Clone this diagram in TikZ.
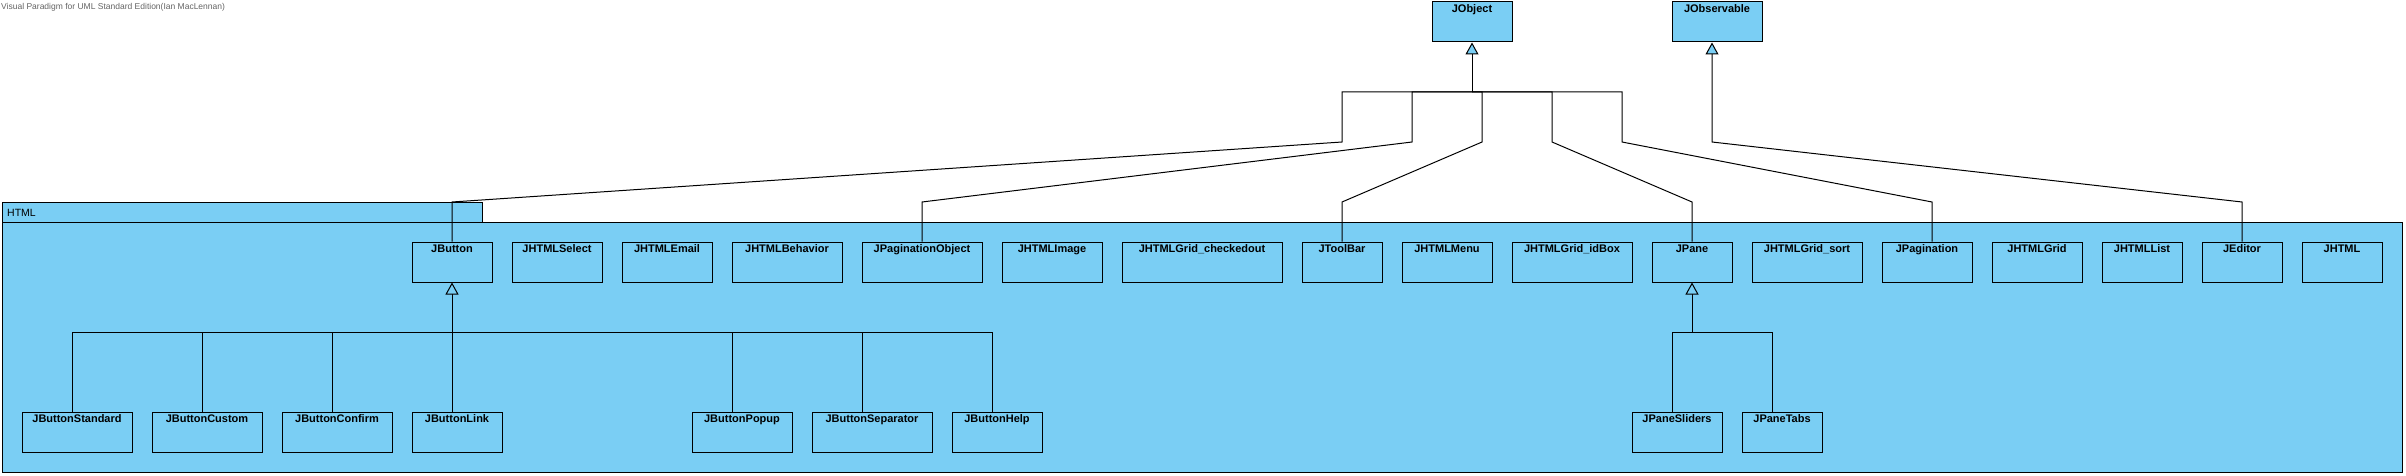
\documentclass[tikz,border=0pt]{standalone}
\usepackage{fontspec}
\setmainfont{Liberation Sans}
\usetikzlibrary{arrows.meta}
\definecolor{umlblue}{RGB}{122,206,244}
\definecolor{wmgray}{RGB}{100,100,100}
\newcommand\umlcls[5]{\node[cls, minimum width=#4pt, label={[clsname]north:#5}] (#1) at (#2,#3) {};}
\begin{document}
\begin{tikzpicture}[x=1pt,y=-1pt,
  cls/.style={draw, fill=umlblue, line width=1pt, minimum height=40pt, inner sep=0pt},
  clsname/.style={anchor=north, inner sep=3pt, font=\fontsize{11}{13}\selectfont\bfseries},
  pkg/.style={draw, fill=umlblue, line width=1pt},
  conn/.style={draw, line width=1pt},
  gen/.style={draw, line width=1pt, -{Triangle[length=12pt,width=13pt,fill=umlblue]}}
]
\useasboundingbox (0,0) rectangle (2406,476);
\node[anchor=north west, inner sep=0pt, font=\fontsize{8.5}{10}\selectfont, text=wmgray] (wm) at (1,3) {Visual Paradigm for UML Standard Edition(Ian MacLennan)};
% package
\draw[pkg] (2,202) rectangle (482,222);
\draw[pkg] (2,222) rectangle (2402,472);
\node[anchor=west, inner sep=0pt, font=\fontsize{10.5}{12}\selectfont] (pkglabel) at (7,213) {HTML};
% top classes
\umlcls{JObject}{1472}{22}{80}{JObject}
\umlcls{JObservable}{1717}{22}{90}{JObservable}
% first row
\umlcls{JButton}{452}{262}{80}{JButton}
\umlcls{JHTMLSelect}{557}{262}{90}{JHTMLSelect}
\umlcls{JHTMLEmail}{667}{262}{90}{JHTMLEmail}
\umlcls{JHTMLBehavior}{787}{262}{110}{JHTMLBehavior}
\umlcls{JPaginationObject}{922}{262}{120}{JPaginationObject}
\umlcls{JHTMLImage}{1052}{262}{100}{JHTMLImage}
\umlcls{gridcheckedout}{1202}{262}{160}{JHTMLGrid\_checkedout}
\umlcls{JToolBar}{1342}{262}{80}{JToolBar}
\umlcls{JHTMLMenu}{1447}{262}{90}{JHTMLMenu}
\umlcls{grididbox}{1572}{262}{120}{JHTMLGrid\_idBox}
\umlcls{JPane}{1692}{262}{80}{JPane}
\umlcls{gridsort}{1807}{262}{110}{JHTMLGrid\_sort}
\umlcls{JPagination}{1927}{262}{90}{JPagination}
\umlcls{JHTMLGrid}{2037}{262}{90}{JHTMLGrid}
\umlcls{JHTMLList}{2142}{262}{80}{JHTMLList}
\umlcls{JEditor}{2242}{262}{80}{JEditor}
\umlcls{JHTML}{2342}{262}{80}{JHTML}
% second row
\umlcls{JButtonStandard}{77}{432}{110}{JButtonStandard}
\umlcls{JButtonCustom}{207}{432}{110}{JButtonCustom}
\umlcls{JButtonConfirm}{337}{432}{110}{JButtonConfirm}
\umlcls{JButtonLink}{457}{432}{90}{JButtonLink}
\umlcls{JButtonPopup}{742}{432}{100}{JButtonPopup}
\umlcls{JButtonSeparator}{872}{432}{120}{JButtonSeparator}
\umlcls{JButtonHelp}{997}{432}{90}{JButtonHelp}
\umlcls{JPaneSliders}{1677}{432}{90}{JPaneSliders}
\umlcls{JPaneTabs}{1782}{432}{80}{JPaneTabs}
% trunk points
\coordinate (objtrunk) at (1472,92);
\coordinate (btntrunk) at (452,332);
\coordinate (panetrunk) at (1692,332);
% generalizations to JObject
\draw[gen] (objtrunk) -- (JObject.south);
\draw[conn] (JButton.north) -- (452,202) -- (1342,142) |- (objtrunk);
\draw[conn] (JPaginationObject.north) -- (922,202) -- (1412,142) |- (objtrunk);
\draw[conn] (JToolBar.north) -- (1342,202) -- (1482,142) |- (objtrunk);
\draw[conn] (JPane.north) -- (1692,202) -- (1552,142) |- (objtrunk);
\draw[conn] ([xshift=5pt]JPagination.north) -- (1932,202) -- (1622,142) |- (objtrunk);
% generalization to JObservable
\draw[gen] (JEditor.north) -- (2242,202) -- (1712,142) -- ([xshift=-5pt]JObservable.south);
% JButton children
\draw[gen] (btntrunk) -- (JButton.south);
\draw[conn] ([xshift=-5pt]JButtonStandard.north) |- (btntrunk);
\draw[conn] ([xshift=-5pt]JButtonCustom.north) |- (btntrunk);
\draw[conn] ([xshift=-5pt]JButtonConfirm.north) |- (btntrunk);
\draw[conn] ([xshift=-5pt]JButtonLink.north) -- (btntrunk);
\draw[conn] ([xshift=-10pt]JButtonPopup.north) |- (btntrunk);
\draw[conn] ([xshift=-10pt]JButtonSeparator.north) |- (btntrunk);
\draw[conn] ([xshift=-5pt]JButtonHelp.north) |- (btntrunk);
% JPane children
\draw[gen] (panetrunk) -- (JPane.south);
\draw[conn] ([xshift=-5pt]JPaneSliders.north) |- (panetrunk);
\draw[conn] ([xshift=-10pt]JPaneTabs.north) |- (panetrunk);
\end{tikzpicture}
\end{document}
